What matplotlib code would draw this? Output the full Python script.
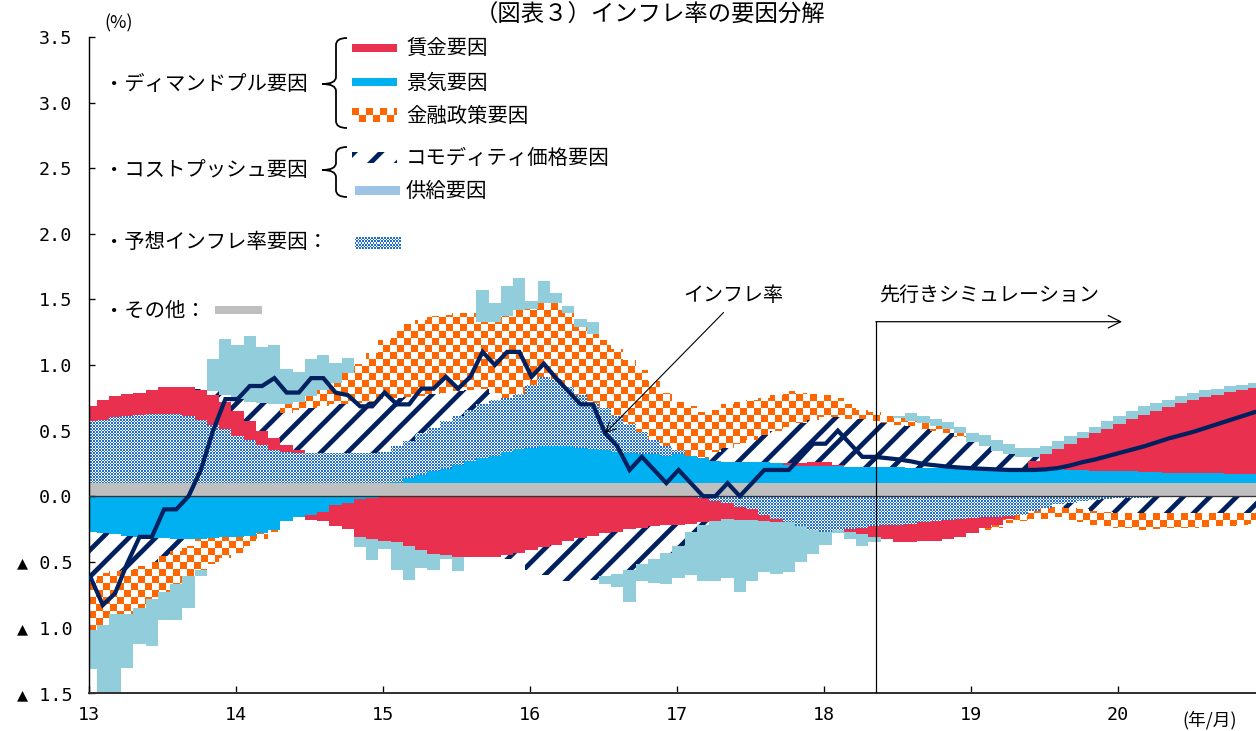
import numpy as np
import matplotlib.pyplot as plt
from matplotlib.colors import to_rgb
from matplotlib.path import Path
from matplotlib.patches import PathPatch, Rectangle

plt.rcParams['font.family'] = ['Noto Sans CJK JP', 'DejaVu Sans']
plt.rcParams['hatch.linewidth'] = 4.3

# monthly contributions, 2013/01 - 2020/12 (%)
other = [0.10] * 96
business = [
    -0.27, -0.28, -0.29, -0.30, -0.31, -0.32, -0.32, -0.33, -0.33, -0.33, -0.32, -0.31,
    -0.31, -0.30, -0.28, -0.255, -0.19, -0.16, -0.14, -0.12, -0.07, -0.05, -0.02, -0.01,
    0.00, 0.01, 0.04, 0.06, 0.09, 0.11, 0.14, 0.17, 0.19, 0.21, 0.24, 0.26,
    0.27, 0.28, 0.28, 0.28, 0.27, 0.26, 0.25, 0.24, 0.23, 0.22, 0.22, 0.21,
    0.22, 0.21, 0.19, 0.17, 0.16, 0.16, 0.16, 0.16, 0.15, 0.14, 0.13, 0.13,
    0.13, 0.13, 0.12, 0.12, 0.12, 0.12, 0.12, 0.115, 0.115, 0.115, 0.115, 0.115,
    0.115, 0.115, 0.115, 0.11, 0.11, 0.11, 0.11, 0.105, 0.10, 0.10, 0.095, 0.095,
    0.09, 0.09, 0.085, 0.085, 0.08, 0.08, 0.078, 0.075, 0.075, 0.072, 0.07, 0.07,
]
expected = [
    0.47, 0.48, 0.50, 0.51, 0.52, 0.53, 0.53, 0.53, 0.51, 0.48, 0.445, 0.41,
    0.36, 0.325, 0.29, 0.255, 0.24, 0.23, 0.23, 0.23, 0.23, 0.23, 0.23, 0.23,
    0.24, 0.27, 0.28, 0.32, 0.33, 0.36, 0.37, 0.39, 0.41, 0.42, 0.41, 0.42,
    0.48, 0.53, 0.51, 0.45, 0.40, 0.35, 0.32, 0.27, 0.22, 0.17, 0.11, 0.07,
    0.03, 0.00, -0.01, -0.04, -0.05, -0.08, -0.10, -0.14, -0.17, -0.20, -0.23, -0.26,
    -0.27, -0.26, -0.25, -0.24, -0.23, -0.22, -0.22, -0.21, -0.20, -0.19, -0.18, -0.17,
    -0.165, -0.16, -0.155, -0.15, -0.14, -0.11, -0.09, -0.06, -0.05, -0.04, -0.03, -0.02,
    -0.015, -0.01, -0.01, -0.005, -0.005, -0.005, -0.005, -0.005, -0.005, -0.005, -0.005, -0.005,
]
wage = [
    0.115, 0.155, 0.16, 0.17, 0.17, 0.18, 0.20, 0.20, 0.22, 0.23, 0.23, 0.21,
    0.19, 0.145, 0.11, 0.085, 0.05, 0.025, -0.04, -0.07, -0.16, -0.20, -0.29, -0.32,
    -0.34, -0.35, -0.38, -0.41, -0.44, -0.45, -0.46, -0.46, -0.46, -0.46, -0.45, -0.43,
    -0.41, -0.39, -0.37, -0.34, -0.32, -0.30, -0.28, -0.27, -0.25, -0.24, -0.23, -0.22,
    -0.22, -0.21, -0.19, -0.15, -0.12, -0.10, -0.08, -0.05, -0.03, 0.01, 0.02, 0.03,
    0.03, 0.01, -0.02, -0.05, -0.08, -0.11, -0.13, -0.14, -0.14, -0.15, -0.15, -0.14,
    -0.115, -0.085, -0.065, -0.025, 0.00, 0.06, 0.11, 0.155, 0.20, 0.24, 0.285, 0.315,
    0.36, 0.40, 0.435, 0.465, 0.50, 0.53, 0.557, 0.58, 0.60, 0.62, 0.64, 0.655,
]
commodity = [
    -0.37, -0.305, -0.28, -0.26, -0.225, -0.18, -0.135, -0.085, -0.05, 0.01, 0.03, 0.05,
    0.09, 0.15, 0.21, 0.26, 0.245, 0.305, 0.34, 0.355, 0.37, 0.37, 0.38, 0.39,
    0.40, 0.365, 0.335, 0.285, 0.26, 0.22, 0.19, 0.15, 0.12, 0.06, -0.03, -0.09,
    -0.15, -0.21, -0.27, -0.31, -0.33, -0.34, -0.33, -0.32, -0.31, -0.28, -0.25, -0.21,
    -0.16, -0.06, -0.02, 0.07, 0.11, 0.14, 0.17, 0.21, 0.25, 0.28, 0.31, 0.32,
    0.34, 0.36, 0.37, 0.37, 0.35, 0.34, 0.325, 0.32, 0.30, 0.28, 0.27, 0.24,
    0.20, 0.17, 0.13, 0.11, 0.09, 0.03, 0.00, -0.02, -0.04, -0.06, -0.08, -0.10,
    -0.11, -0.115, -0.12, -0.12, -0.12, -0.12, -0.12, -0.12, -0.12, -0.12, -0.12, -0.12,
]
monetary = [
    -0.38, -0.40, -0.33, -0.34, -0.32, -0.28, -0.275, -0.255, -0.23, -0.23, -0.20, -0.16,
    -0.12, -0.08, -0.05, -0.02, 0.065, 0.06, 0.09, 0.125, 0.16, 0.24, 0.30, 0.37,
    0.45, 0.515, 0.555, 0.575, 0.59, 0.59, 0.60, 0.59, 0.51, 0.54, 0.62, 0.64,
    0.58, 0.56, 0.58, 0.57, 0.52, 0.53, 0.52, 0.51, 0.49, 0.47, 0.445, 0.41,
    0.37, 0.375, 0.355, 0.32, 0.33, 0.315, 0.30, 0.28, 0.27, 0.27, 0.23, 0.20,
    0.17, 0.15, 0.11, 0.07, 0.07, 0.05, 0.05, 0.04, 0.04, 0.04, 0.03, 0.03,
    0.00, -0.01, -0.02, -0.03, -0.05, -0.06, -0.08, -0.08, -0.09, -0.10, -0.11, -0.11,
    -0.12, -0.12, -0.125, -0.125, -0.12, -0.12, -0.115, -0.11, -0.105, -0.10, -0.095, -0.09,
]
supply = [
    -0.30, -0.56, -0.65, -0.41, -0.27, -0.36, -0.21, -0.27, -0.24, -0.05, 0.24, 0.43,
    0.415, 0.50, 0.43, 0.45, 0.27, 0.23, 0.285, 0.27, 0.155, 0.11, -0.08, -0.16,
    -0.06, -0.21, -0.26, -0.14, -0.12, -0.03, -0.11, 0.00, 0.24, 0.14, 0.23, 0.24,
    0.06, 0.17, 0.08, 0.05, 0.06, 0.09, -0.06, -0.10, -0.25, -0.13, -0.18, -0.24,
    -0.24, -0.33, -0.43, -0.46, -0.45, -0.55, -0.47, -0.39, -0.39, -0.38, -0.27, -0.18,
    -0.10, -0.02, -0.06, -0.09, -0.04, 0.00, 0.02, 0.06, 0.06, 0.05, 0.05, 0.045,
    0.065, 0.085, 0.085, 0.08, 0.07, 0.07, 0.06, 0.06, 0.06, 0.05, 0.05, 0.06,
    0.06, 0.06, 0.065, 0.06, 0.055, 0.05, 0.05, 0.055, 0.045, 0.045, 0.04, 0.035,
]
inflation = [
    -0.62, -0.83, -0.74, -0.51, -0.31, -0.31, -0.10, -0.10, 0.00, 0.20, 0.50, 0.74,
    0.74, 0.84, 0.84, 0.90, 0.79, 0.79, 0.90, 0.90, 0.79, 0.77, 0.685, 0.685,
    0.79, 0.70, 0.70, 0.82, 0.82, 0.91, 0.82, 0.91, 1.10, 1.00, 1.10, 1.10,
    0.91, 1.01, 0.90, 0.80, 0.70, 0.70, 0.48, 0.38, 0.20, 0.30, 0.20, 0.10,
    0.20, 0.10, 0.00, 0.00, 0.10, 0.00, 0.10, 0.20, 0.20, 0.20, 0.30, 0.40,
    0.40, 0.50, 0.40, 0.30, 0.30, 0.29, 0.28, 0.265, 0.245, 0.235, 0.225, 0.218,
    0.213, 0.208, 0.204, 0.20, 0.20, 0.20, 0.205, 0.215, 0.235, 0.26, 0.28, 0.305,
    0.33, 0.355, 0.38, 0.41, 0.44, 0.465, 0.49, 0.52, 0.55, 0.58, 0.61, 0.64,
]
year_labels = ['13', '14', '15', '16', '17', '18', '19', '20']
sim_start = 64  # 2018/05

RED = '#E9304E'
BLUE = '#00B0F0'
ORANGE = '#FF6600'
NAVY = '#002060'
SUPPLY = '#92CDDC'
SUPPLY_LEG = '#9DC3E6'
MESH = '#1F70CC'
GRAY = '#BFBFBF'

W, H, DPI = 1256, 731, 80
fig = plt.figure(figsize=(W / DPI, H / DPI), dpi=DPI)


def px_rect(x0, y0, x1, y1):
    return [x0 / W, 1 - y1 / H, (x1 - x0) / W, (y1 - y0) / H]


def checker(h, w, cell, color):
    i, j = np.mgrid[0:h, 0:w]
    img = np.ones((h, w, 3))
    img[((i // cell + j // cell) % 2) == 0] = to_rgb(color)
    return img


def mesh(h, w, color):
    i, j = np.mgrid[0:h, 0:w]
    img = np.ones((h, w, 3))
    img[((i + j) % 3 == 0) | ((i - j) % 3 == 0)] = to_rgb(color)
    return img


ax = fig.add_axes(px_rect(89, 37, 1256, 693))
xlim = (0, (1256 - 89) / 12.25)
ylim = (-1.5, 3.5)
n = len(other)
x = np.arange(n) + 0.13

patterns = {
    'mesh': mesh(656, 1167, MESH),
    'checker': checker(656, 1167, 7, ORANGE),
}


def fill_pattern(bars, img):
    paths = [b.get_path().transformed(b.get_patch_transform()) for b in bars]
    clip = PathPatch(Path.make_compound_path(*paths), transform=ax.transData,
                     facecolor='none', edgecolor='none')
    ax.add_patch(clip)
    im = ax.imshow(img, extent=(*xlim, *ylim), origin='upper',
                   interpolation='nearest', aspect='auto', zorder=2)
    im.set_clip_path(clip)


series = [
    (other, dict(color=GRAY)),
    (business, dict(color=BLUE)),
    (expected, 'mesh'),
    (wage, dict(color=RED)),
    (commodity, dict(color='white', edgecolor=NAVY, hatch='/')),
    (monetary, 'checker'),
    (supply, dict(color=SUPPLY)),
]
pos = np.zeros(n)
neg = np.zeros(n)
for vals, style in series:
    v = np.asarray(vals, dtype=float)
    bottom = np.where(v >= 0, pos, neg)
    if isinstance(style, str):
        bars = ax.bar(x, v, 1.0, bottom=bottom, color='white', linewidth=0,
                      antialiased=False, zorder=1)
        fill_pattern(bars, patterns[style])
    else:
        ax.bar(x, v, 1.0, bottom=bottom, linewidth=0, antialiased=False,
               zorder=1, **style)
    pos += np.clip(v, 0, None)
    neg += np.clip(v, None, 0)

ax.axhline(0, color='#333333', lw=1.2, zorder=4)
ax.plot(x, inflation, color=NAVY, lw=3.8, zorder=6, solid_joinstyle='miter')

# simulation marker
xs = x[sim_start] + 0.1
ax.plot([xs, xs], [-1.5, 1.33], color='black', lw=1.1, zorder=7)
ax.annotate('', xy=(x[84] + 0.2, 1.33), xytext=(xs, 1.33),
            arrowprops=dict(arrowstyle='->', lw=1.1, color='black',
                            mutation_scale=28, shrinkA=0, shrinkB=0), zorder=7)
ax.text(xs + 0.3, 1.53, '先行きシミュレーション', ha='left', va='center', fontsize=18)

# inflation label
ax.annotate('', xy=(x[42], inflation[42]), xytext=(51.8, 1.40),
            arrowprops=dict(arrowstyle='->', lw=1.0, color='black',
                            mutation_scale=22, shrinkA=0, shrinkB=0), zorder=7)
ax.text(52.6, 1.53, 'インフレ率', ha='center', va='center', fontsize=18)

ax.set_xlim(*xlim)
ax.set_ylim(*ylim)
for side in ['top', 'right']:
    ax.spines[side].set_visible(False)
ax.spines['left'].set_linewidth(1.3)
ax.spines['bottom'].set_linewidth(1.8)
ax.spines['bottom'].set_color('#333333')

yt = np.arange(-1.5, 3.51, 0.5)
ax.set_yticks(yt)
ax.set_yticklabels([f'{v:.1f}' if v >= 0 else f'▲ {abs(v):.1f}' for v in yt],
                   family=['DejaVu Sans Mono', 'DejaVu Sans'], fontsize=16.5)
ax.set_xticks(np.arange(0, 96, 12))
ax.set_xticklabels(year_labels, family=['DejaVu Sans Mono', 'DejaVu Sans'], fontsize=16.5)
ax.tick_params(axis='y', direction='in', length=5, width=1.2, pad=15)
ax.tick_params(axis='x', direction='in', length=6, width=1.2, pad=12)

# legend and labels on a pixel overlay
ov = fig.add_axes([0, 0, 1, 1], zorder=10)
ov.set_xlim(0, W)
ov.set_ylim(H, 0)
ov.axis('off')

ov.text(650, 15, '（図表３）インフレ率の要因分解', ha='center', va='center', fontsize=21)
ov.text(119, 23, '(%)', ha='center', va='center', fontsize=16)
ov.text(1210, 720, '(年/月)', ha='center', va='center', fontsize=16)

fs = 18.3
ov.text(104, 84, '・ディマンドプル要因', ha='left', va='center', fontsize=fs)
ov.text(104, 170, '・コストプッシュ要因', ha='left', va='center', fontsize=fs)
ov.text(104, 243, '・予想インフレ率要因：', ha='left', va='center', fontsize=fs)
ov.text(104, 311, '・その他：', ha='left', va='center', fontsize=fs)

for label, y in [('賃金要因', 48), ('景気要因', 83), ('金融政策要因', 116),
                 ('コモディティ価格要因', 158), ('供給要因', 191)]:
    ov.text(406, y, label, ha='left', va='center', fontsize=fs)


def brace(xb, y0, y1, ym, hook=11, nub=14, r=7):
    verts = [(xb + hook, y0), (xb, y0), (xb, y0 + r),
             (xb, ym - r), (xb, ym), (xb - nub, ym),
             (xb, ym), (xb, ym + r),
             (xb, y1 - r), (xb, y1), (xb + hook, y1)]
    codes = [Path.MOVETO, Path.CURVE3, Path.CURVE3,
             Path.LINETO, Path.CURVE3, Path.CURVE3,
             Path.CURVE3, Path.CURVE3,
             Path.LINETO, Path.CURVE3, Path.CURVE3]
    ov.add_patch(PathPatch(Path(verts, codes), facecolor='none',
                           edgecolor='black', lw=1.6))


brace(336, 38, 128, 84)
brace(336, 147, 197, 170)

ov.add_patch(Rectangle((352, 44), 45, 8, color=RED, lw=0))
ov.add_patch(Rectangle((352, 78), 45, 8, color=BLUE, lw=0))
ov.add_patch(Rectangle((355, 186), 45, 9, color=SUPPLY_LEG, lw=0))
ov.add_patch(Rectangle((215, 306), 47, 8, color=GRAY, lw=0))

sample = fig.add_axes(px_rect(352, 108, 397, 122))
sample.imshow(checker(14, 45, 7, ORANGE), interpolation='nearest', aspect='auto')
sample.axis('off')

sample = fig.add_axes(px_rect(355, 237, 400, 249))
sample.imshow(mesh(12, 45, MESH), interpolation='nearest', aspect='auto')
sample.axis('off')

sample = fig.add_axes(px_rect(352, 152, 397, 163))
sample.add_patch(Rectangle((0, 0), 1, 1, facecolor='white', edgecolor=NAVY,
                           hatch='/', lw=0))
sample.set_xlim(0, 1)
sample.set_ylim(0, 1)
sample.axis('off')

fig.savefig('out.png', dpi=DPI, facecolor='white')
